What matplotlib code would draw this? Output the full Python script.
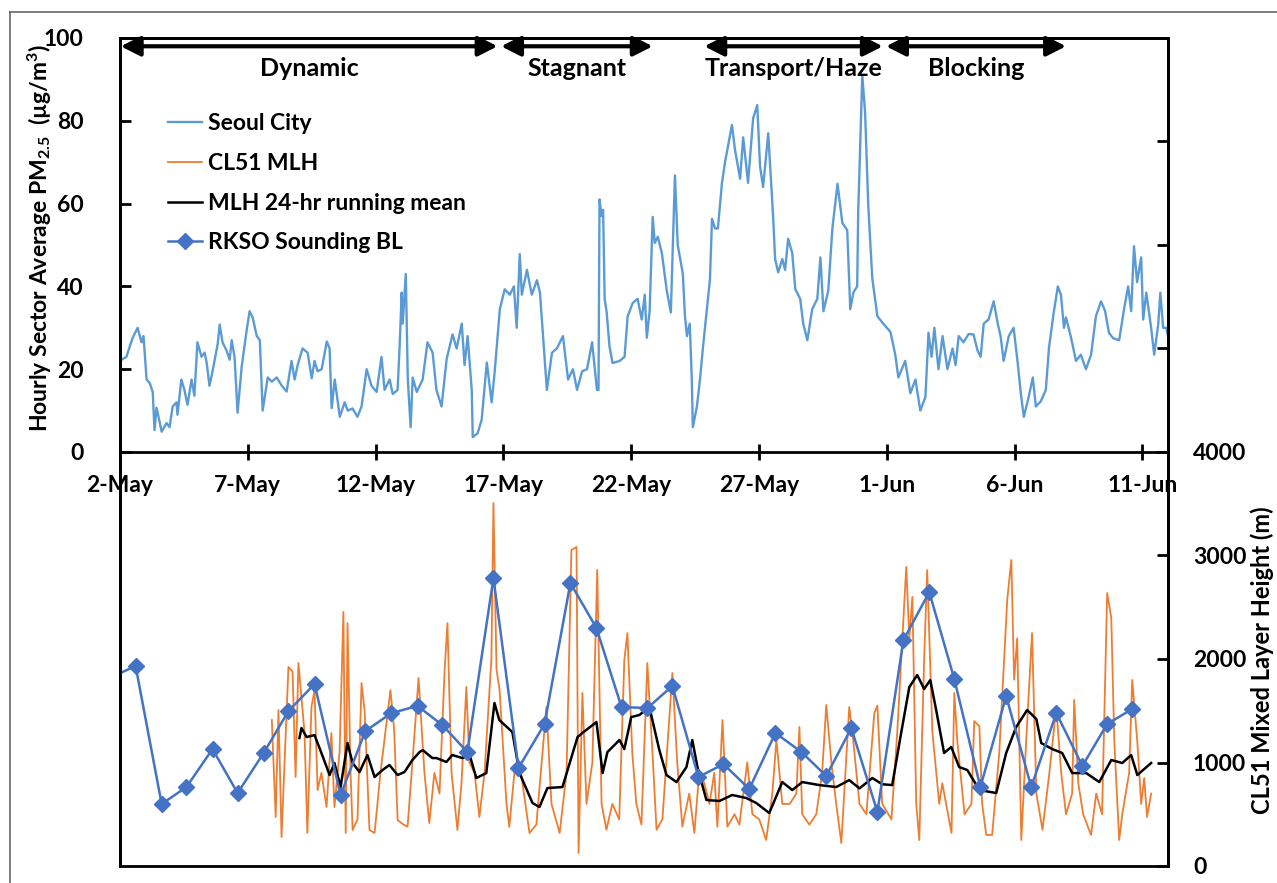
import matplotlib.pyplot as plt
from matplotlib.lines import Line2D

# time axis: days after 2-May 00:00
pm_day = [0.00, 0.25, 0.49, 0.69, 0.84, 0.92, 1.04, 1.16, 1.28, 1.35, 1.43, 1.63, 1.82, 1.94, 2.06, 2.21, 2.25,
          2.40, 2.52, 2.64, 2.80, 2.91, 3.03, 3.19, 3.31, 3.39, 3.50, 3.62, 3.82, 3.90, 4.01, 4.17, 4.29, 4.37,
          4.48, 4.60, 4.76, 4.96, 5.07, 5.19, 5.35, 5.47, 5.58, 5.78, 5.94, 6.13, 6.33, 6.52, 6.71, 6.83, 6.95,
          7.14, 7.34, 7.50, 7.61, 7.73, 7.89, 8.09, 8.20, 8.28, 8.40, 8.60, 8.79, 8.91, 9.10, 9.29, 9.45, 9.65,
          9.84, 10.04, 10.23, 10.35, 10.55, 10.67, 10.86, 10.94, 11.02, 11.06, 11.18, 11.26, 11.37, 11.45, 11.61,
          11.84, 12.03, 12.23, 12.38, 12.58, 12.78, 13.01, 13.17, 13.37, 13.48, 13.60, 13.76, 13.80, 13.99, 14.15,
          14.35, 14.54, 14.66, 14.86, 15.05, 15.25, 15.41, 15.52, 15.64, 15.72, 15.92, 16.11, 16.31, 16.43, 16.70,
          16.90, 17.09, 17.33, 17.53, 17.72, 17.88, 18.08, 18.27, 18.47, 18.66, 18.72, 18.76, 18.84, 18.90, 18.96,
          19.04, 19.15, 19.27, 19.55, 19.74, 19.86, 20.06, 20.25, 20.41, 20.53, 20.61, 20.72, 20.84, 20.92, 21.04,
          21.20, 21.39, 21.55, 21.71, 21.82, 22.02, 22.10, 22.18, 22.29, 22.37, 22.41, 22.57, 22.69, 22.81, 22.96,
          23.08, 23.16, 23.28, 23.39, 23.55, 23.67, 23.94, 24.06, 24.26, 24.38, 24.57, 24.77, 24.93, 25.04, 25.16,
          25.36, 25.55, 25.63, 25.75, 25.91, 26.02, 26.14, 26.30, 26.42, 26.61, 26.73, 26.89, 27.08, 27.28, 27.40,
          27.52, 27.71, 27.87, 28.07, 28.26, 28.45, 28.57, 28.69, 28.84, 28.88, 29.04, 29.15, 29.27, 29.43, 29.63,
          29.86, 30.14, 30.33, 30.45, 30.72, 30.92, 31.12, 31.31, 31.51, 31.63, 31.75, 31.86, 32.02, 32.18, 32.37,
          32.57, 32.69, 32.81, 33.00, 33.20, 33.39, 33.55, 33.67, 33.79, 33.98, 34.18, 34.34, 34.45, 34.57, 34.77,
          34.96, 35.12, 35.24, 35.36, 35.55, 35.71, 35.83, 36.02, 36.22, 36.34, 36.53, 36.69, 36.81, 36.93, 37.01,
          37.20, 37.40, 37.59, 37.79, 37.99, 38.18, 38.38, 38.54, 38.69, 38.85, 39.09, 39.28, 39.44, 39.56, 39.67,
          39.79, 39.95, 40.03, 40.15, 40.34, 40.46, 40.62, 40.70, 40.81, 40.93, 41.00]
pm_val = [22, 23, 27.5, 30, 26.5, 28, 17.5, 16.7, 14.5, 5.3, 10.7, 4.9, 7, 6, 11, 12, 9,
          17.5, 15, 11.4, 17.5, 13.6, 26.5, 23, 24, 21.6, 16, 19.5, 26, 30.8, 26.5, 24.5, 22.3, 27,
          23, 9.5, 20.6, 29.6, 34, 32.5, 28, 27, 10, 18, 17, 18, 16, 14.6, 22, 17.5, 21,
          25, 24, 17.8, 22, 19.5, 20, 26.7, 25, 10.6, 17.5, 8.5, 12, 10, 10.5, 8.5, 11, 20,
          16, 14.5, 23, 15, 17.5, 14, 15, 25.5, 38.5, 31, 43, 17.5, 6, 18, 14.5,
          17.5, 26.5, 24, 15, 11, 22.5, 28.4, 25, 31, 21, 28, 15, 3.6, 4.5, 7.8,
          21.6, 12, 19.5, 34.5, 39.3, 38, 40, 30, 47.8, 38, 44, 38, 41.5, 38.5, 15,
          24, 25, 28, 17.5, 20, 15, 19.5, 20, 26.5, 15, 15, 61, 57, 58.5, 37,
          33.7, 25.5, 21.5, 22, 23, 32.8, 36, 37, 32, 38, 27.6, 34, 56.8, 50.5, 52,
          48, 39, 33.7, 66.8, 50, 43, 33, 28, 31, 17.5, 6, 11, 17.5, 25.5, 34.5,
          41.7, 56.3, 54, 54, 65, 70, 79, 73, 66, 76, 65, 80.6, 83.8, 69, 64,
          77, 57, 46.6, 43.4, 46.6, 44, 51.5, 48, 39.3, 37, 31, 27, 34.5, 37, 47,
          34, 39, 54, 64.8, 55.3, 53.6, 34.5, 38.5, 40, 58, 91, 82, 60, 42, 32.8,
          31, 29, 23.5, 18, 22, 14.2, 17.5, 10, 13.3, 28.8, 23, 30, 20, 28, 20,
          25, 21, 28, 26.5, 28.5, 28.4, 24.5, 23, 31, 32, 36.4, 31, 28, 22, 28,
          30, 21.5, 14.2, 8.5, 13.3, 18, 11, 12.2, 15, 25, 33.7, 40, 38, 30, 32.5,
          27.8, 22, 23.5, 20, 23.5, 32.8, 36.4, 34, 28.8, 27.5, 27, 34.5, 40, 34, 49.7,
          41, 47, 32, 38.5, 30, 23.5, 31, 38.5, 30, 30, 28]

mlh_day = [5.94, 6.09, 6.20, 6.32, 6.59, 6.75, 6.87, 6.98, 7.22, 7.33, 7.49, 7.61, 7.73, 7.88, 8.08, 8.27,
           8.39, 8.59, 8.74, 8.83, 8.90, 9.02, 9.10, 9.29, 9.45, 9.57, 9.76, 9.96, 10.19, 10.58, 10.73, 10.86,
           11.09, 11.25, 11.44, 11.68, 11.91, 12.10, 12.30, 12.50, 12.70, 12.81, 12.97, 13.20, 13.36, 13.55,
           13.67, 13.87, 14.06, 14.26, 14.53, 14.61, 14.73, 14.85, 15.12, 15.23, 15.43, 15.63, 16.02, 16.29,
           16.68, 16.88, 17.20, 17.47, 17.66, 17.86, 17.94, 18.09, 18.25, 18.48, 18.67, 18.84, 19.03, 19.26,
           19.53, 19.73, 19.85, 20.04, 20.20, 20.40, 20.63, 20.83, 20.99, 21.22, 21.61, 21.80, 22.00, 22.27,
           22.47, 22.66, 22.86, 23.06, 23.25, 23.37, 23.57, 23.76, 24.04, 24.23, 24.54, 24.74, 25.01, 25.28,
           25.52, 25.68, 25.91, 26.20, 26.46, 26.58, 26.69, 26.97, 27.24, 27.47, 27.63, 27.83, 28.02, 28.22,
           28.53, 28.65, 28.93, 29.20, 29.51, 29.63, 29.82, 30.18, 30.41, 30.76, 30.88, 31.00, 31.15, 31.27,
           31.46, 31.58, 31.78, 32.05, 32.17, 32.53, 32.64, 32.76, 33.04, 33.31, 33.42, 33.62, 33.73, 33.89,
           34.12, 34.40, 34.71, 34.87, 34.98, 35.10, 35.26, 35.45, 35.68, 35.85, 36.09, 36.36, 36.63, 36.82,
           37.01, 37.25, 37.33, 37.49, 37.68, 37.99, 38.19, 38.42, 38.62, 38.78, 38.90, 39.09, 39.21, 39.48,
           39.60, 39.80, 39.95, 40.07, 40.18, 40.34]
mlh_val = [1410, 473, 1507, 280, 1923, 1880, 860, 1961, 1285, 319, 1536, 1700, 734, 900, 570, 1285,
           570, 1100, 2454, 319, 2347, 900, 348, 450, 1768, 1500, 348, 319, 900, 1700, 1300, 444,
           400, 380, 1000, 1816, 900, 415, 900, 700, 1893, 2347, 900, 348, 800, 1729,
           1000, 900, 473, 900, 2000, 3507, 1900, 1700, 600, 377, 900, 1000, 319, 400,
           1536, 600, 319, 900, 3053, 3082, 126, 1671, 600, 1000, 2860, 600, 350, 600,
           450, 1990, 2250, 1100, 600, 400, 1961, 1100, 350, 450, 1864, 1000, 380, 700,
           319, 900, 800, 600, 900, 380, 1410, 380, 500, 400, 1000, 500, 450, 251,
           700, 1217, 600, 600, 700, 1343, 500, 400, 500, 900, 1555, 1000, 600, 222,
           1536, 1300, 600, 500, 1478, 1550, 600, 450, 1300, 2890, 2200, 2600, 600, 251,
           2000, 2860, 1300, 600, 800, 319, 1671, 1200, 500, 600, 1400, 1350, 600, 300,
           300, 1100, 2570, 2956, 1800, 2200, 251, 1200, 2250, 700, 350, 900, 1536, 900,
           500, 700, 1604, 800, 500, 300, 700, 500, 2637, 2400, 1200, 251, 500, 900,
           1797, 1200, 600, 850, 473, 700]

mean_day = [7.02, 7.10, 7.30, 7.61, 7.88, 8.20, 8.39, 8.63, 8.90, 9.10, 9.37, 9.68, 9.96, 10.27, 10.54, 10.86,
            11.13, 11.44, 11.72, 11.84, 12.22, 12.38, 12.77, 13.00, 13.40, 13.68, 13.94, 14.33, 14.65, 14.84,
            15.35, 15.63, 16.14, 16.41, 16.72, 17.31, 17.90, 18.09, 18.64, 18.88, 19.07, 19.54, 19.73, 20.00,
            20.32, 20.71, 21.10, 21.38, 21.77, 22.16, 22.39, 22.59, 22.94, 23.45, 23.95, 24.50, 24.89, 25.40,
            25.91, 26.30, 26.69, 27.36, 28.02, 28.53, 28.93, 29.43, 29.82, 30.21, 30.56, 30.88, 31.19, 31.46,
            31.70, 31.93, 32.24, 32.52, 32.83, 33.15, 33.62, 34.28, 34.67, 35.06, 35.49, 35.85, 36.04, 36.47,
            36.86, 37.25, 37.80, 38.31, 38.78, 39.21, 39.56, 39.80, 40.34]
mean_val = [1236, 1333, 1246, 1265, 1092, 879, 995, 763, 1188, 995, 908, 1072, 860, 927, 976, 879,
            908, 1024, 1101, 1120, 1043, 1043, 1005, 1072, 1043, 1072, 850, 898, 1575, 1410,
            1294, 898, 608, 570, 753, 763, 1246, 1285, 1391, 898, 1101, 1217, 1130, 1439,
            1459, 1536, 1120, 879, 811, 956, 1217, 956, 638, 628, 686, 657, 609, 512,
            811, 734, 811, 782, 763, 830, 750, 850, 790, 782, 1285, 1729, 1845, 1710,
            1797, 1507, 1092, 1150, 956, 927, 734, 705, 1092, 1343, 1507, 1420, 1188, 1130,
            1092, 898, 898, 811, 1024, 995, 1072, 879, 995]

snd_day = [-0.38, 0.61, 1.63, 2.60, 3.62, 4.60, 5.62, 6.59, 7.61, 8.63, 9.60, 10.62, 11.64, 12.61, 13.59,
           14.61, 15.59, 16.61, 17.62, 18.64, 19.62, 20.63, 21.61, 22.63, 23.61, 24.62, 25.64, 26.66,
           27.63, 28.61, 29.63, 30.65, 31.66, 32.64, 33.66, 34.67, 35.65, 36.63, 37.65, 38.62, 39.60]
snd_val = [1820, 1932, 599, 763, 1130, 705, 1092, 1497, 1758, 686, 1304, 1478, 1546, 1362, 1101,
           2782, 947, 1372, 2734, 2299, 1536, 1526, 1739, 860, 985, 744, 1285, 1101,
           869, 1333, 522, 2183, 2647, 1806, 763, 1642, 763, 1478, 966, 1372, 1517]

tick_days = [0, 5, 10, 15, 20, 25, 30, 35, 40]
tick_labels = ['2-May', '7-May', '12-May', '17-May', '22-May', '27-May', '1-Jun', '6-Jun', '11-Jun']

phase_names = ['Dynamic', 'Stagnant', 'Transport/Haze', 'Blocking']
phase_start = [0.03, 14.91, 22.86, 29.97]
phase_end = [14.77, 20.84, 29.84, 37.01]

plt.rcParams['font.family'] = ['Lato', 'DejaVu Sans']
plt.rcParams['font.weight'] = 'bold'
plt.rcParams['mathtext.fontset'] = 'custom'
plt.rcParams['mathtext.rm'] = 'Lato:bold'
plt.rcParams['mathtext.it'] = 'Lato:bold'
plt.rcParams['mathtext.bf'] = 'Lato:bold'

W, H = 1277, 883
fig = plt.figure(figsize=(W / 100, H / 100), dpi=100)
ax = fig.add_axes([120 / W, 1 - 866 / H, 1048 / W, 828 / H])

ax.plot(pm_day, pm_val, color='#5B9BD5', lw=1.7, label='Seoul City')
ax.set_xlim(0, 41)
ax.set_ylim(-100, 100)
ax.set_yticks(range(0, 101, 20))
ax.set_xticks(tick_days, tick_labels)
ax.spines['bottom'].set_position(('data', 0))
for s in ax.spines.values():
    s.set_linewidth(2)
ax.tick_params(axis='x', direction='inout', length=11, width=2, pad=11, labelsize=16.5)
ax.tick_params(axis='y', direction='in', length=8, width=2, pad=26, labelsize=16.5)

# phase arrows along the top
for name, a, b in zip(phase_names, phase_start, phase_end):
    ax.annotate('', xy=(b, 98), xytext=(a, 98),
                arrowprops=dict(arrowstyle='<|-|>,head_length=0.65,head_width=0.33', color='k',
                                lw=3, shrinkA=0, shrinkB=0, mutation_scale=18))
    ax.text((a + b) / 2, 92.7, name, ha='center', va='center', fontsize=18, fontweight='bold')

ax2 = ax.twinx()
l2, = ax2.plot(mlh_day, mlh_val, color='#ED7D31', lw=1.3, label='CL51 MLH')
l3, = ax2.plot(mean_day, mean_val, color='black', lw=1.8, label='MLH 24-hr running mean')
l4, = ax2.plot(snd_day, snd_val, color='#4472C4', lw=1.8, marker='D', ms=8.5, label='RKSO Sounding BL')
ax2.set_ylim(0, 8000)
ax2.set_yticks(range(0, 8001, 1000), [str(v) if v <= 4000 else '' for v in range(0, 8001, 1000)])
for s in ax2.spines.values():
    s.set_linewidth(2)
ax2.tick_params(axis='y', direction='in', length=8, width=2, pad=18, labelsize=16.5)

handles = [ax.get_lines()[0], l2, l3, l4]
ax2.legend(handles, [h.get_label() for h in handles], loc='upper left',
           bbox_to_anchor=(168 / W, 1 - 113 / H), bbox_transform=fig.transFigure,
           frameon=False, borderpad=0, borderaxespad=0, handlelength=1.5,
           handletextpad=0.25, labelspacing=0.82, fontsize=16.5)

fig.text(40 / W, 1 - 238 / H, 'Hourly Sector Average PM$_{2.5}$  (µg/m$^{3}$)', rotation=90,
         ha='center', va='center', fontsize=16.5, fontweight='bold')
fig.text(1262 / W, 1 - 660 / H, 'CL51 Mixed Layer Height (m)', rotation=90,
         ha='center', va='center', fontsize=17, fontweight='bold')

# outer frame of the figure
fig.add_artist(Line2D([10 / W, 10 / W], [0, 1 - 12 / H], transform=fig.transFigure, color='#666666', lw=1.2))
fig.add_artist(Line2D([10 / W, 1], [1 - 12 / H, 1 - 12 / H], transform=fig.transFigure, color='#666666', lw=1.2))

fig.savefig('out.png', dpi=100)
